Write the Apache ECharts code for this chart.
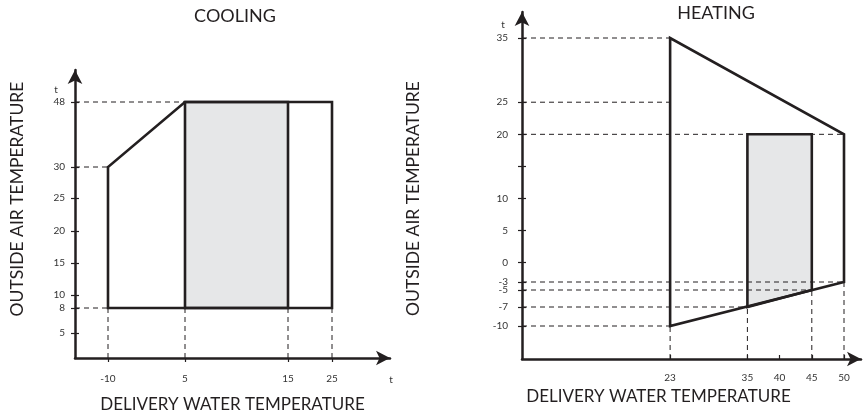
<!DOCTYPE html>
<html><head><meta charset="utf-8">
<script src="https://cdn.jsdelivr.net/npm/echarts@6/dist/echarts.min.js"></script>
<style>html,body{margin:0;padding:0;background:#fff}#c{width:866px;height:414px}</style>
</head><body><div id="c"></div>
<script>
// ---------------- data ----------------
// COOLING: x = delivery water temperature, y = outside air temperature
const coolXTicks = [-10, 5, 15, 25];
const coolYTicks = [5, 8, 10, 15, 20, 25, 30, 48];
const coolEnvelope = [[-10, 8], [-10, 30], [5, 48], [25, 48], [25, 8]];
const coolRange = [[5, 8], [5, 48], [15, 48], [15, 8]];
const coolGuidesH = [[5, 48], [-10, 30], [-10, 8]];          // [x end, y]
const coolGuidesV = [[-10, 8], [5, 8], [15, 8], [25, 8]];     // [x, y end]

// HEATING
const heatXTicks = [23, 35, 40, 45, 50];
const heatYTicks = [-10, -7, -5, -3, 0, 5, 10, 15, 20, 25, 35];
const heatYTickText = ['-10', '-7', '-5', '-3', '0', '5', '10', '', '20', '25', '35'];
const heatEnvelope = [[23, -10], [23, 35], [50, 20], [50, -3]];
const heatRange = [[35, -7], [35, 20], [45, 20], [45, -5]];
const heatGuidesH = [[23, 35], [23, 25], [50, 20], [50, -3], [45, -5], [35, -7], [23, -10]];
const heatGuidesV = [[23, -10], [35, -7], [45, -5], [50, -3]];

// ------------- schematic (non-linear) axis scales: value -> axis units -------------
const coolXScale = [[-10, 33], [5, 110], [15, 213], [25, 257]];
const coolYScale = [[5, 25], [8, 50], [10, 63], [15, 95], [20, 127], [25, 160], [30, 191], [48, 256]];
const heatXScale = [[0, 0], [50, 322]];
const heatYScale = [[-10, 33], [-7, 52], [-5, 69], [-3, 77], [35, 321]];

function sc(scale, v) {
  const n = scale.length;
  for (let i = 0; i < n - 1; i++) {
    if (v <= scale[i + 1][0] || i === n - 2) {
      const a = scale[i], b = scale[i + 1];
      return a[1] + (v - a[0]) * (b[1] - a[1]) / (b[0] - a[0]);
    }
  }
}

const ink = '#231f20';
const font = 'Lato, "Open Sans", sans-serif';
const G = [
  { left: 75, top: 70, width: 315, height: 288 },
  { left: 522, top: 12, width: 339, height: 347 }
];

function tickCfg(ticks, texts, scale) {
  const pos = ticks.map(v => sc(scale, v));
  const fmt = (val) => {
    let best = 0, d = Infinity;
    pos.forEach((p, i) => { const dd = Math.abs(p - val); if (dd < d) { d = dd; best = i; } });
    return texts ? texts[best] : String(ticks[best]);
  };
  return { pos, fmt };
}

function xAxisDef(gi, ticks, scale, opts) {
  const t = tickCfg(ticks, null, scale);
  return {
    type: 'value', gridIndex: gi, min: 0, max: G[gi].width,
    splitLine: { show: false },
    axisLine: { show: true, symbol: ['none', 'arrow'], symbolSize: [11, 14], lineStyle: { color: ink, width: 2.5 } },
    axisTick: { show: true, customValues: t.pos, inside: opts.inside, length: 4, lineStyle: { color: ink, width: 1.2 } },
    axisLabel: { show: true, customValues: t.pos, formatter: t.fmt, margin: opts.margin, fontSize: 10, color: '#333', fontFamily: font },
    name: 'DELIVERY WATER TEMPERATURE', nameLocation: 'middle', nameGap: opts.nameGap, nameMoveOverlap: false,
    nameTextStyle: { fontSize: 17, color: ink, fontFamily: font, padding: opts.namePad }
  };
}
function yAxisDef(gi, ticks, texts, scale, opts) {
  const t = tickCfg(ticks, texts, scale);
  return {
    type: 'value', gridIndex: gi, min: 0, max: G[gi].height, position: 'left',
    splitLine: { show: false },
    axisLine: { show: true, symbol: ['none', 'arrow'], symbolSize: [11, 14], lineStyle: { color: ink, width: 2.5 } },
    axisTick: { show: true, customValues: t.pos, length: 4, lineStyle: { color: ink, width: 1.2 } },
    axisLabel: { show: true, customValues: t.pos, formatter: t.fmt, margin: opts.margin, fontSize: 10, color: '#333', fontFamily: font },
    name: 'OUTSIDE AIR TEMPERATURE', nameLocation: 'middle', nameGap: opts.nameGap, nameMoveOverlap: false,
    nameTextStyle: { fontSize: 17.5, color: ink, fontFamily: font, padding: opts.namePad }
  };
}
function yInnerDef(gi, ticks, scale) {
  const pos = ticks.map(v => sc(scale, v));
  return {
    type: 'value', gridIndex: gi, min: 0, max: G[gi].height, position: 'left', offset: 0,
    splitLine: { show: false }, axisLine: { show: false }, axisLabel: { show: false },
    axisTick: { show: true, inside: true, customValues: pos, length: 4, lineStyle: { color: ink, width: 1.2 } }
  };
}

function mapPts(pts, sx, sy) { return pts.map(p => [sc(sx, p[0]), sc(sy, p[1])]); }

function polySeries(gi, pts, style) {
  return {
    type: 'custom', coordinateSystem: 'cartesian2d', xAxisIndex: gi, yAxisIndex: gi, silent: true, clip: false,
    data: pts, encode: { x: 0, y: 1 },
    renderItem: (params, api) => {
      if (params.dataIndex !== 0) return null;
      return { type: 'polygon', shape: { points: pts.map(p => api.coord(p)) }, style: style };
    }
  };
}
function guideSeries(gi, segs) {
  return {
    type: 'custom', coordinateSystem: 'cartesian2d', xAxisIndex: gi, yAxisIndex: gi, silent: true, clip: false,
    data: segs, encode: { x: [0, 2], y: [1, 3] },
    renderItem: (params, api) => {
      const a = api.coord([api.value(0), api.value(1)]);
      const b = api.coord([api.value(2), api.value(3)]);
      return { type: 'line', shape: { x1: a[0], y1: a[1], x2: b[0], y2: b[1] },
               style: { stroke: ink, lineWidth: 1, lineDash: [5, 4] } };
    }
  };
}
function guides(gh, gv, sx, sy) {
  const segs = [];
  gh.forEach(g => segs.push([0, sc(sy, g[1]), sc(sx, g[0]), sc(sy, g[1])]));
  gv.forEach(g => segs.push([sc(sx, g[0]), 0, sc(sx, g[0]), sc(sy, g[1])]));
  return segs;
}

const fillStyle = { fill: '#e6e7e8', stroke: 'none' };
const lineStyle = { fill: 'none', stroke: ink, lineWidth: 2.6, lineJoin: 'miter' };

const chart = echarts.init(document.getElementById('c'), null, { renderer: 'canvas' });
chart.setOption({
  animation: false,
  backgroundColor: '#fff',
  grid: G.map(g => Object.assign({ containLabel: false, outerBoundsMode: 'none' }, g)),
  xAxis: [
    xAxisDef(0, coolXTicks, coolXScale, { inside: false, margin: 16, nameGap: 38, namePad: [0, 0, 0, 0] }),
    xAxisDef(1, heatXTicks, heatXScale, { inside: true, margin: 14, nameGap: 29, namePad: [0, 66, 0, 0] })
  ],
  yAxis: [
    yAxisDef(0, coolYTicks, null, coolYScale, { margin: 10, nameGap: 49, namePad: [0, 0, 0, 30] }),
    yAxisDef(1, heatYTicks, heatYTickText, heatYScale, { margin: 14, nameGap: 100, namePad: [0, 26, 0, 0] }),
    yInnerDef(0, coolYTicks, coolYScale),
    yInnerDef(1, heatYTicks, heatYScale)
  ],
  graphic: [
    { type: 'text', x: 235, y: 16, style: { text: 'COOLING', textAlign: 'center', textVerticalAlign: 'middle', font: '18px ' + font, fill: ink } },
    { type: 'text', x: 716, y: 13, style: { text: 'HEATING', textAlign: 'center', textVerticalAlign: 'middle', font: '18px ' + font, fill: ink } },
    { type: 'text', x: 56, y: 90, style: { text: 't', textAlign: 'center', textVerticalAlign: 'middle', font: '10px ' + font, fill: '#333' } },
    { type: 'text', x: 391, y: 380, style: { text: 't', textAlign: 'center', textVerticalAlign: 'middle', font: '10px ' + font, fill: '#333' } },
    { type: 'text', x: 503, y: 25, style: { text: 't', textAlign: 'center', textVerticalAlign: 'middle', font: '10px ' + font, fill: '#333' } }
  ],
  series: [
    polySeries(0, mapPts(coolRange, coolXScale, coolYScale), fillStyle),
    polySeries(1, mapPts(heatRange, heatXScale, heatYScale), fillStyle),
    guideSeries(0, guides(coolGuidesH, coolGuidesV, coolXScale, coolYScale)),
    guideSeries(1, guides(heatGuidesH, heatGuidesV, heatXScale, heatYScale)),
    polySeries(0, mapPts(coolEnvelope, coolXScale, coolYScale), lineStyle),
    polySeries(0, mapPts(coolRange, coolXScale, coolYScale), lineStyle),
    polySeries(1, mapPts(heatEnvelope, heatXScale, heatYScale), lineStyle),
    polySeries(1, mapPts(heatRange, heatXScale, heatYScale), lineStyle)
  ]
});
</script>
</body></html>
